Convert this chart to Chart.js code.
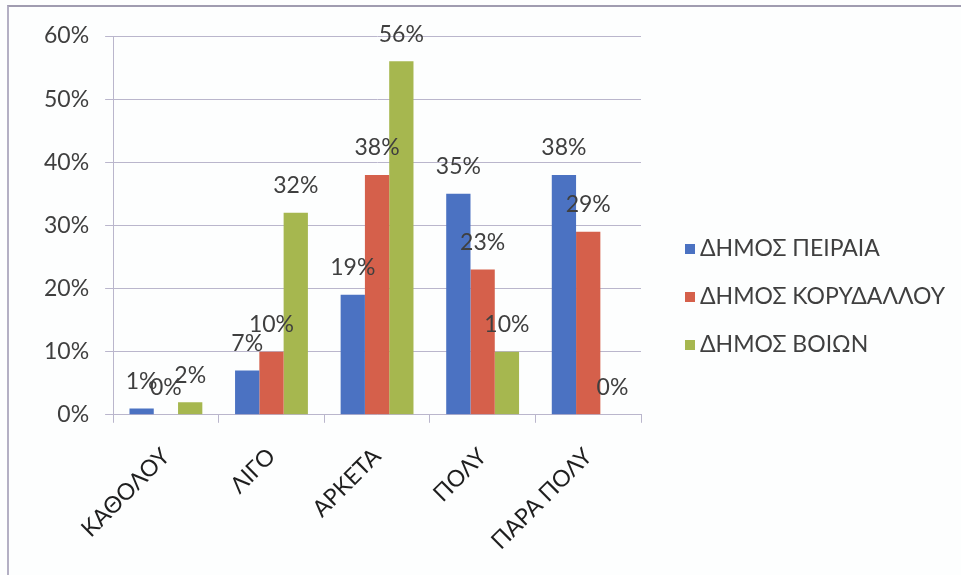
<!DOCTYPE html>
<html lang="el">
<head>
  <meta charset="UTF-8" />
  <title>Δήμοι - γράφημα</title>
  <script src="https://cdn.jsdelivr.net/npm/chart.js"></script>
  <style>
    body { margin: 0; padding: 0; background: #fff; }
    .wrap {
      position: relative;
      width: 961px; height: 575px;
      background: #fdfefe;
      font-family: Lato, "Open Sans", sans-serif;
    }
    .wrap::before {
      content: '';
      position: absolute;
      left: 7px; top: 5px; right: 0; bottom: 0;
      border-top: 2px solid #a09cb0;
      border-left: 2px solid #b4b0c4;
      pointer-events: none;
    }
    .legend {
      position: absolute;
      left: 685px; top: 235px;
      margin: 0; padding: 0;
      list-style: none;
      color: #3f3f3f;
      font-size: 23px;
    }
    .legend li {
      height: 48px;
      line-height: 24px;
      white-space: nowrap;
    }
    .legend span {
      display: inline-block;
      width: 10px; height: 10px;
      margin-right: 5px;
      vertical-align: 2px;
    }
  </style>
</head>
<body>
  <div class="wrap">
    <canvas id="chart" width="961" height="575"></canvas>
    <ul class="legend" id="legend"></ul>
  </div>

  <script>
    const categories = ['ΚΑΘΟΛΟΥ', 'ΛΙΓΟ', 'ΑΡΚΕΤΑ', 'ΠΟΛΥ', 'ΠΑΡΑ ΠΟΛΥ'];
    const seriesNames = ['ΔΗΜΟΣ ΠΕΙΡΑΙΑ', 'ΔΗΜΟΣ ΚΟΡΥΔΑΛΛΟΥ', 'ΔΗΜΟΣ ΒΟΙΩΝ'];
    const piraeus = [1, 7, 19, 35, 38];
    const korydallos = [0, 10, 38, 23, 29];
    const voion = [2, 32, 56, 10, 0];
    const colors = ['#4b72c2', '#d5604b', '#a6b74f'];

    const FONT = 'Lato, "Open Sans", sans-serif';
    const TEXT = '#3f3f3f';
    const GRID = '#bab6cc';

    // percent labels above each bar
    const valueLabels = {
      id: 'valueLabels',
      afterDatasetsDraw(chart) {
        const ctx = chart.ctx;
        ctx.save();
        ctx.font = '23px ' + FONT;
        ctx.fillStyle = TEXT;
        ctx.textAlign = 'center';
        ctx.textBaseline = 'middle';
        chart.data.datasets.forEach((ds, i) => {
          chart.getDatasetMeta(i).data.forEach((bar, j) => {
            ctx.fillText(ds.data[j] + '%', bar.x, bar.y - 27);
          });
        });
        ctx.restore();
      }
    };

    // legend in html, right of the plot
    const legendEl = document.getElementById('legend');
    seriesNames.forEach((name, i) => {
      const li = document.createElement('li');
      li.innerHTML = '<span style="background:' + colors[i] + '"></span>' + name;
      legendEl.appendChild(li);
    });

    new Chart(document.getElementById('chart'), {
      type: 'bar',
      data: {
        labels: categories,
        datasets: [
          { label: seriesNames[0], data: piraeus, backgroundColor: colors[0] },
          { label: seriesNames[1], data: korydallos, backgroundColor: colors[1] },
          { label: seriesNames[2], data: voion, backgroundColor: colors[2] }
        ]
      },
      options: {
        responsive: false,
        animation: false,
        categoryPercentage: 0.69,
        barPercentage: 1,
        layout: { padding: { left: 28, top: 36, right: 320, bottom: 0 } },
        scales: {
          x: {
            grid: { drawOnChartArea: false, drawTicks: true, tickLength: 8, color: GRID },
            border: { display: true, color: GRID },
            ticks: {
              color: '#1e1e1e',
              font: { family: FONT, size: 23 },
              minRotation: 45, maxRotation: 45,
              padding: 20
            }
          },
          y: {
            min: 0, max: 60,
            grid: { color: GRID, tickLength: 8 },
            border: { display: true, color: GRID },
            ticks: {
              stepSize: 10,
              color: TEXT,
              font: { family: FONT, size: 23 },
              padding: 16,
              callback: v => v + '%'
            }
          }
        },
        plugins: {
          legend: { display: false },
          tooltip: { enabled: false }
        }
      },
      plugins: [valueLabels]
    });
  </script>
</body>
</html>
